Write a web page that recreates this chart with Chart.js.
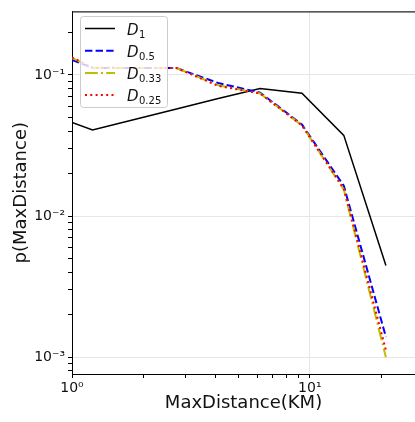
<!DOCTYPE html>
<html>
<head>
<meta charset="utf-8">
<script src="https://cdn.jsdelivr.net/npm/chart.js@4.4.1/dist/chart.umd.min.js"></script>
<style>
  body { margin: 0; background: #fff; }
</style>
</head>
<body>
<canvas id="canvas" width="415" height="422"></canvas>
<script>
// bin centres (km) and p(MaxDistance) for each D
var distances = [1, 1.22, 1.83, 2.75, 4.12, 6.18, 9.27, 13.9, 20.9]
var d1 = [0.046, 0.0408, 0.0484, 0.0574, 0.068, 0.080, 0.0743, 0.0373, 0.00446]
var d05 = [0.128, 0.112, 0.112, 0.112, 0.0876, 0.075, 0.0445, 0.0164, 0.00139]
var d033 = [0.132, 0.1125, 0.112, 0.112, 0.0845, 0.0739, 0.0439, 0.0154, 0.00100]
var d025 = [0.133, 0.1125, 0.112, 0.112, 0.0837, 0.0739, 0.0439, 0.0156, 0.00112]
var seriesNames = [['D', '1'], ['D', '0.5'], ['D', '0.33'], ['D', '0.25']]

var xTicks = [1, 2, 3, 4, 5, 6, 7, 8, 9, 10, 20]
var yTicks = [0.0008, 0.0009, 0.001, 0.002, 0.003, 0.004, 0.005, 0.006, 0.007, 0.008, 0.009,
    0.01, 0.02, 0.03, 0.04, 0.05, 0.06, 0.07, 0.08, 0.09, 0.1, 0.2]
var xLabels = {1: '10⁰', 10: '10¹'}
var yLabels = {0.001: '10⁻³', 0.01: '10⁻²', 0.1: '10⁻¹'}

function points(ys) {
    var out = []
    for (let i = 0; i < ys.length; i++) {
        out.push({x: distances[i], y: ys[i]})
    }
    return out
}

// matplotlib style legend with subscripts, drawn on top of the lines
var legendPlugin = {
    id: 'mplLegend',
    afterDraw: function(chart) {
        var c = chart.ctx
        var area = chart.chartArea
        c.save()
        c.beginPath()
        c.moveTo(area.left, area.top + 0.5)
        c.lineTo(area.right, area.top + 0.5)
        c.strokeStyle = '#222'
        c.lineWidth = 1.2
        c.stroke()

        c.beginPath()
        c.roundRect(80.5, 16.5, 87, 91, 3)
        c.fillStyle = 'rgba(255,255,255,0.8)'
        c.fill()
        c.strokeStyle = '#cccccc'
        c.lineWidth = 1
        c.stroke()
        chart.data.datasets.forEach(function(ds, i) {
            var y = 28.5 + i * 22.2
            c.beginPath()
            c.setLineDash(ds.borderDash || [])
            c.strokeStyle = ds.borderColor
            c.lineWidth = ds.borderWidth
            c.moveTo(85, y)
            c.lineTo(115, y)
            c.stroke()
            c.setLineDash([])
            c.fillStyle = '#111'
            c.textBaseline = 'alphabetic'
            c.font = 'italic 15px "DejaVu Sans"'
            c.fillText(seriesNames[i][0], 127, y + 6)
            c.font = '10px "DejaVu Sans"'
            c.fillText(seriesNames[i][1], 139, y + 9)
        })
        c.restore()
    }
}

var tickFont = {family: 'DejaVu Sans', size: 14}
var titleFont = {family: 'DejaVu Sans', size: 18}

var ctx = document.getElementById('canvas').getContext('2d')
var config = {
    type: 'line',
    data: {
        datasets: [{
            data: points(d1),
            borderColor: '#000000',
            borderWidth: 1.5,
            order: 4
        }, {
            data: points(d05),
            borderColor: '#0000ff',
            borderWidth: 2,
            borderDash: [7.4, 3.2],
            order: 3
        }, {
            data: points(d033),
            borderColor: '#bfbf00',
            borderWidth: 2,
            borderDash: [12.8, 3.2, 2, 3.2],
            order: 2
        }, {
            data: points(d025),
            borderColor: '#ff0000',
            borderWidth: 2,
            borderDash: [2, 3.3],
            order: 1
        }]
    },
    options: {
        responsive: false,
        animation: false,
        layout: {padding: {top: 8, right: 0, left: 0, bottom: 0}, autoPadding: false},
        plugins: {legend: {display: false}, tooltip: {enabled: false}},
        elements: {point: {radius: 0}, line: {tension: 0, fill: false}},
        scales: {
            x: {
                type: 'logarithmic',
                min: 1,
                max: 27.7,
                afterBuildTicks: function(s) { s.ticks = xTicks.map(function(v) { return {value: v} }) },
                afterFit: function(s) { s.height = 48 },
                ticks: {autoSkip: false, maxRotation: 0, padding: 2, color: '#111', font: tickFont,
                    callback: function(v) { return xLabels[v] || '' }},
                grid: {color: function(c) { return c.tick && xLabels[c.tick.value] ? '#e6e6e6' : 'rgba(0,0,0,0)' },
                    tickColor: '#000', tickLength: 4},
                border: {color: '#000', width: 1},
                title: {display: true, text: 'MaxDistance(KM)', color: '#111', font: titleFont, padding: {top: 0, bottom: 8}}
            },
            y: {
                type: 'logarithmic',
                min: 0.00076,
                max: 0.282,
                afterBuildTicks: function(s) { s.ticks = yTicks.map(function(v) { return {value: v} }) },
                afterFit: function(s) { s.width = 72 },
                ticks: {autoSkip: false, padding: 3, color: '#111', font: tickFont,
                    callback: function(v) { return yLabels[v] || '' }},
                grid: {color: function(c) { return c.tick && yLabels[c.tick.value] ? '#e6e6e6' : 'rgba(0,0,0,0)' },
                    tickColor: '#000', tickLength: 4},
                border: {color: '#000', width: 1},
                title: {display: true, text: 'p(MaxDistance)', color: '#111', font: titleFont, padding: {top: 11, bottom: 0}}
            }
        }
    },
    plugins: [legendPlugin]
}
var myChart = new Chart(ctx, config)
</script>
</body>
</html>
